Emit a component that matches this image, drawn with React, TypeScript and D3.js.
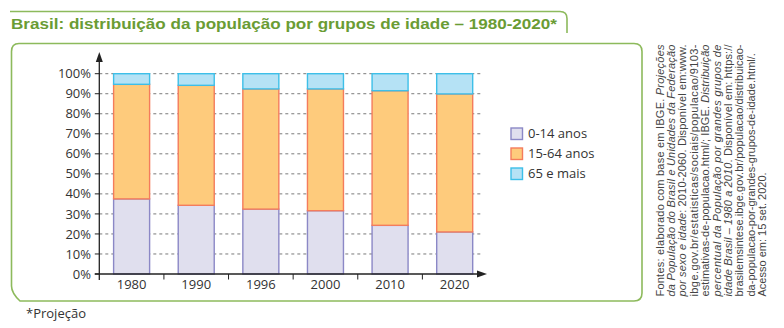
import React from "react";
import * as d3 from "d3";

const years = ["1980", "1990", "1996", "2000", "2010", "2020"];
const age0to14 = [37.5, 34.3, 32.4, 31.6, 24.3, 21.0];
const age15to64 = [57.2, 59.9, 60.0, 60.8, 67.2, 68.9];
const age65plus = [5.3, 5.8, 7.6, 7.6, 8.5, 10.1];
const seriesNames = ["0-14 anos", "15-64 anos", "65 e mais"];
const yTicks = [0, 10, 20, 30, 40, 50, 60, 70, 80, 90, 100];

const fills = ["#e0dfee", "#fecb7c", "#b5e2f5"];
const strokes = ["#8b88c6", "#f47c5c", "#3dbfe8"];

const sourceLines: [string, boolean][][] = [
  [["Fontes: elaborado com base em IBGE. ", false], ["Projeções", true]],
  [["da População do Brasil e Unidades da Federação", true]],
  [["por sexo e idade", true], [": 2010-2060. Disponível em:www.", false]],
  [["ibge.gov.br/estatisticas/sociais/populacao/9103-", false]],
  [["estimativas-de-populacao.html/; IBGE. ", false], ["Distribuição", true]],
  [["percentual da População por grandes grupos de", true]],
  [["idade Brasil – 1980 a 2010", true], [". Disponível em: https://", false]],
  [["brasilemsintese.ibge.gov.br/populacao/distribuicao-", false]],
  [["da-populacao-por-grandes-grupos-de-idade.html/.", false]],
  [["Acesso em: 15 set. 2020.", false]],
];

export default function App() {
  const W = 784, H = 328;
  const x0 = 99.3, x1 = 487;
  const x = d3.scaleBand<string>().domain(years).range([x0, x1]).padding(0);
  const y = d3.scaleLinear().domain([0, 100]).range([274, 73.7]);
  const barW = 36;
  const stackData = years.map((yr, i) => ({ year: yr, s0: age0to14[i], s1: age15to64[i], s2: age65plus[i] }));
  const stack = d3.stack<any>().keys(["s0", "s1", "s2"])(stackData);
  const green = "#6a9c34";
  const frame = "#8dba5c";
  const labelFont = "'Open Sans', sans-serif";
  const text = "#333";

  return (
    <svg width={W} height={H} style={{ position: "absolute", left: 0, top: 0 }} xmlns="http://www.w3.org/2000/svg">
      <rect width={W} height={H} fill="#fff" />
      {/* title tab */}
      <path d="M10,11.5 H560 Q567,11.5 567,18.5 V33" fill="none" stroke={frame} strokeWidth={1.6} />
      <text x={11} y={29} fill={green} fontFamily="'Liberation Sans', Arial, sans-serif" fontWeight="bold" fontSize={15.5} textLength={546} lengthAdjust="spacingAndGlyphs">
        Brasil: distribuição da população por grupos de idade – 1980-2020*
      </text>
      {/* main frame */}
      <path d="M19,43.5 H634 Q642,43.5 642,51.5 V293 Q642,301 634,301 H20 Q11.5,293 11.5,286 V51.5 Q11.5,43.5 19,43.5 Z" fill="none" stroke={frame} strokeWidth={1.6} />

      {/* gridlines */}
      {yTicks.filter(t => t > 0).map(t => (
        <line key={t} x1={x0} x2={481} y1={y(t)} y2={y(t)} stroke="#7a7a7a" strokeWidth={1} strokeDasharray="3,3" />
      ))}

      {/* bars */}
      {stack.map((layer, si) => (
        <g key={si}>
          {layer.map((d, i) => {
            const cx = (x(years[i]) as number) + x.bandwidth() / 2;
            return (
              <rect key={i} x={cx - barW / 2} y={y(d[1])} width={barW} height={y(d[0]) - y(d[1])}
                fill={fills[si]} stroke={strokes[si]} strokeWidth={1.4} />
            );
          })}
        </g>
      ))}

      {/* y axis */}
      <line x1={x0} x2={x0} y1={57} y2={280} stroke="#222" strokeWidth={1.3} />
      <path d={`M${x0},52 L${x0 - 3.5},62 L${x0 + 3.5},62 Z`} fill="#222" />
      {yTicks.map(t => (
        <g key={t}>
          <line x1={x0 - 4.5} x2={x0} y1={y(t)} y2={y(t)} stroke="#222" strokeWidth={1} />
          <text x={91} y={y(t) + 4.6} textAnchor="end" fontFamily={labelFont} fontSize={13} fill={text}>{t}%</text>
        </g>
      ))}
      {/* x axis */}
      <line x1={x0 - 4.5} x2={482} y1={274} y2={274} stroke="#222" strokeWidth={1.3} />
      <path d={`M487,274 L477,270.5 L477,277.5 Z`} fill="#222" />
      {years.slice(1).map(yr => (
        <line key={yr} x1={x(yr) as number} x2={x(yr) as number} y1={274} y2={279.5} stroke="#222" strokeWidth={1} />
      ))}
      {years.map(yr => (
        <text key={yr} x={(x(yr) as number) + x.bandwidth() / 2} y={288.5} textAnchor="middle" fontFamily={labelFont} fontSize={13} fill={text}>{yr}</text>
      ))}

      {/* legend */}
      {seriesNames.map((n, i) => (
        <g key={n}>
          <rect x={511} y={128 + i * 20} width={11.5} height={11.5} fill={fills[i]} stroke={strokes[i]} strokeWidth={1.4} />
          <text x={528} y={138.3 + i * 20} fontFamily={labelFont} fontSize={13} fill={text}>{n}</text>
        </g>
      ))}

      {/* source */}
      <g transform="translate(652,296.5) rotate(-90)">
        {sourceLines.map((parts, i) => (
          <text key={i} x={0} y={11.5 + i * 11.4} fontFamily="'Liberation Sans', Arial, sans-serif" fontSize={11} fill="#444"
            {...(i < 8 ? { textLength: 252, lengthAdjust: "spacing" } : {})}>
            {parts.map(([s, it], j) => (
              <tspan key={j} fontStyle={it ? "italic" : "normal"}>{s}</tspan>
            ))}
          </text>
        ))}
      </g>

      <text x={26} y={318} fontFamily={labelFont} fontSize={13} fill={text}>*Projeção</text>
    </svg>
  );
}
